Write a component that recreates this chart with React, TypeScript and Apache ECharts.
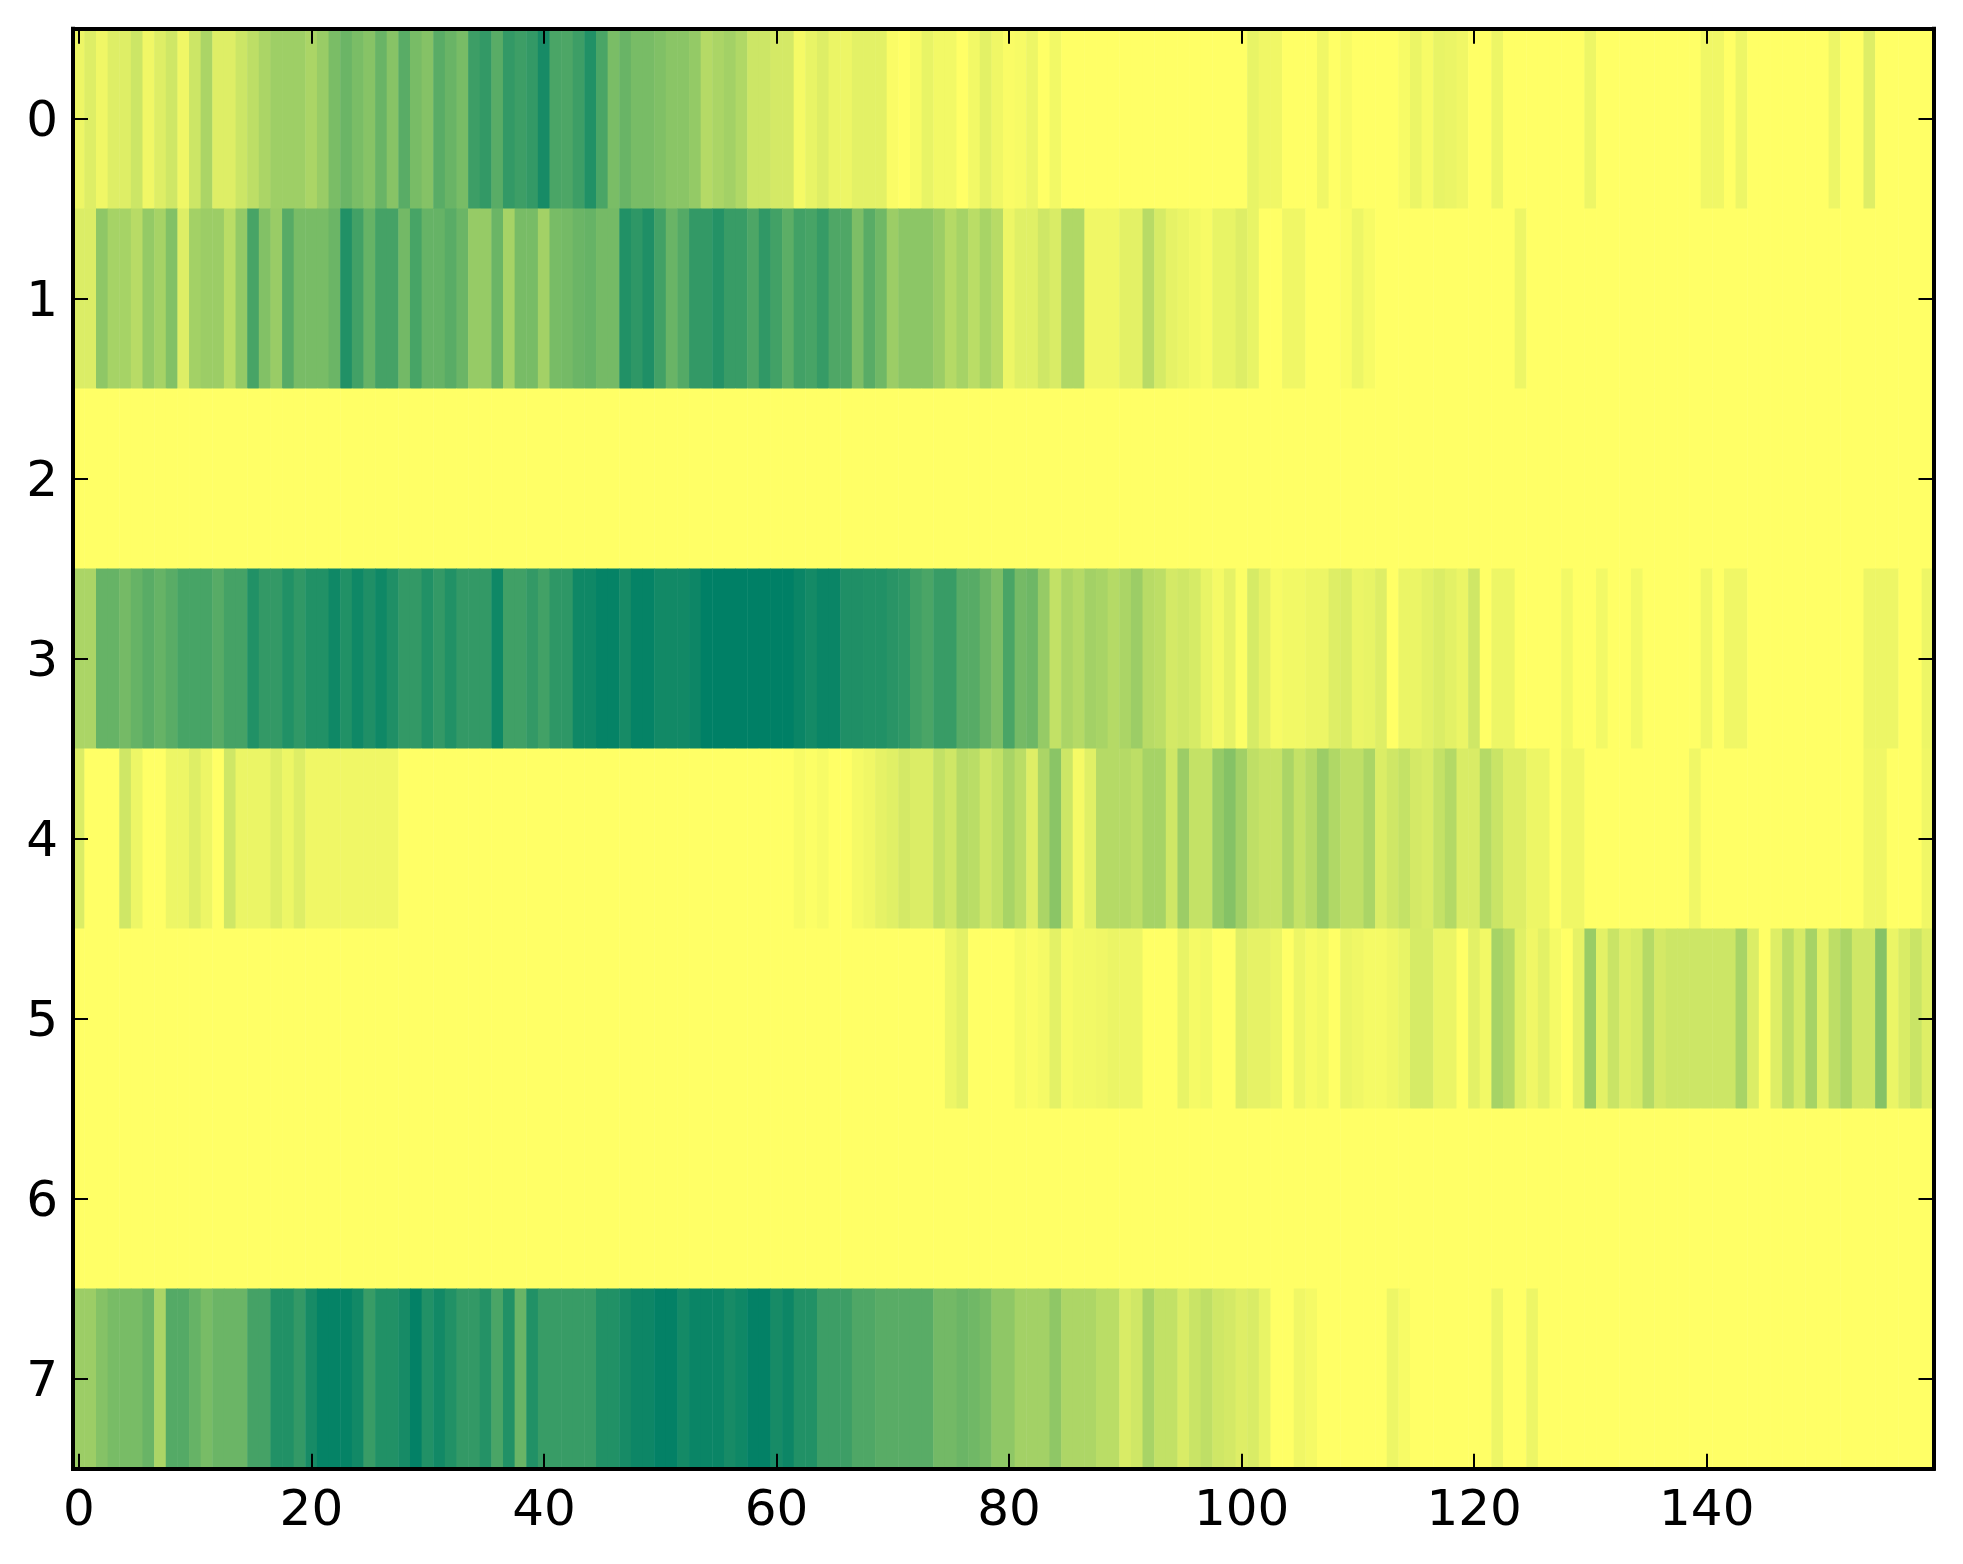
import React, { useEffect, useRef } from "react";
import * as echarts from "echarts";

const row0 = [
  .07,.13,.06,.13,.13,.2,.06,.13,.19,.06,
  .2,.33,.13,.13,.2,.26,.33,.38,.38,.38,
  .33,.4,.52,.58,.52,.47,.59,.47,.65,.53,
  .48,.65,.59,.53,.76,.8,.65,.8,.76,.8,
  .91,.71,.7,.76,.87,.71,.52,.59,.53,.53,
  .5,.46,.46,.42,.29,.33,.36,.31,.2,.2,
  .17,.17,.04,.09,.13,.08,.07,.11,.11,.11,
  .02,0,.03,.09,.05,.05,0,.05,.11,.06,
  .02,.03,.07,0,.05,0,0,0,0,0,
  0,0,0,0,0,0,0,0,0,0,
  0,.09,.06,.06,0,0,0,.06,0,.03,
  0,0,0,0,.03,.08,.03,.09,.08,.06,
  0,0,.07,0,0,0,0,0,0,0,
  .07,0,0,0,0,0,0,0,0,0,
  .06,.06,0,.07,0,0,0,0,0,0,
  0,.07,0,0,.13,0,0,0,0,0,
];
const row1 = [
  .14,.14,.44,.35,.35,.28,.42,.35,.49,.13,
  .36,.39,.39,.27,.42,.72,.49,.4,.66,.53,
  .53,.53,.58,.87,.74,.6,.73,.73,.55,.72,
  .6,.6,.65,.58,.41,.41,.58,.35,.53,.53,
  .36,.53,.54,.58,.6,.54,.54,.87,.82,.88,
  .74,.59,.67,.8,.8,.86,.78,.78,.7,.81,
  .74,.64,.74,.72,.79,.69,.69,.51,.65,.56,
  .39,.45,.45,.45,.39,.29,.35,.27,.34,.28,
  .07,.12,.12,.19,.15,.31,.31,.06,.06,.06,
  .11,.11,.28,.16,.1,.08,.05,.03,.09,.09,
  .13,.09,0,0,.06,.06,0,0,0,.02,
  .07,.03,0,0,0,0,0,0,0,0,
  0,0,0,0,.07,0,0,0,0,0,
  0,0,0,0,0,0,0,0,0,0,
  0,0,0,0,0,0,0,0,0,0,
  0,0,0,0,0,0,0,0,0,0,
];
const row2 = [
  0,0,0,0,0,0,0,0,0,0, 0,0,0,0,0,0,0,0,0,0, 0,0,0,0,0,0,0,0,0,0, 0,0,0,0,0,0,0,0,0,0,
  0,0,0,0,0,0,0,0,0,0, 0,0,0,0,0,0,0,0,0,0, 0,0,0,0,0,0,0,0,0,0, 0,0,0,0,0,0,0,0,0,0,
  0,0,0,0,0,0,0,0,0,0, 0,0,0,0,0,0,0,0,0,0, 0,0,0,0,0,0,0,0,0,0, 0,0,0,0,0,0,0,0,0,0,
  0,0,0,0,0,0,0,0,0,0, 0,0,0,0,0,0,0,0,0,0, 0,0,0,0,0,0,0,0,0,0, 0,0,0,0,0,0,0,0,0,0,
];
const row3 = [
  .33,.33,.6,.6,.54,.6,.65,.6,.65,.72,
  .72,.72,.66,.73,.73,.87,.8,.8,.87,.81,
  .87,.87,.94,.87,.94,.88,.94,.88,.8,.8,
  .87,.8,.87,.8,.8,.8,.94,.75,.75,.8,
  .74,.82,.82,.94,.94,.98,.98,.91,.98,.98,
  .93,.93,.93,.95,1,1,1,1,1,1,
  1,1,.96,.92,.96,.96,.88,.88,.87,.87,
  .84,.82,.75,.71,.78,.78,.66,.66,.59,.51,
  .71,.54,.57,.41,.24,.33,.29,.36,.34,.29,
  .33,.39,.28,.26,.17,.19,.16,.09,.04,.1,
  .01,.16,.1,.03,.05,.05,.07,.07,.13,.15,
  .08,.09,.13,0,.08,.08,.11,.14,.11,.08,
  .19,0,.07,.07,0,0,0,0,.05,0,
  0,.05,0,0,.05,0,0,0,0,0,
  .06,0,.06,.06,0,0,0,0,0,0,
  0,0,0,0,.07,.07,.07,0,0,.07,
];
const row4 = [
  .14,0,0,0,.19,.07,0,0,.07,.07,
  .13,.07,0,.19,.08,.08,.08,.13,.07,.13,
  .06,.06,.06,.06,.06,.06,.06,.06,0,0,
  0,0,0,0,0,0,0,0,0,0,
  0,0,0,0,0,0,0,0,0,0,
  0,0,0,0,0,0,0,0,0,0,
  0,0,.03,.01,.03,0,0,.04,.06,.1,
  .12,.17,.14,.14,.24,.19,.29,.27,.19,.24,
  .34,.27,.13,.33,.46,.2,.04,.12,.29,.29,
  .29,.26,.35,.35,.19,.39,.23,.23,.41,.48,
  .37,.25,.22,.22,.33,.23,.29,.39,.31,.25,
  .25,.33,.14,.19,.23,.17,.15,.23,.3,.15,
  .15,.29,.21,.13,.13,.07,.07,0,.06,.06,
  0,0,0,0,0,0,0,0,0,.06,
  0,0,0,0,0,0,0,0,0,0,
  0,0,0,0,.06,.06,0,0,0,.06,
];
const row5 = [
  0,0,0,0,0,0,0,0,0,0, 0,0,0,0,0,0,0,0,0,0, 0,0,0,0,0,0,0,0,0,0, 0,0,0,0,0,0,0,0,0,0,
  0,0,0,0,0,0,0,0,0,0, 0,0,0,0,0,0,0,0,0,0, 0,0,0,0,0,0,0,0,0,0,
  0,0,0,0,0,.07,.11,0,0,0,
  0,.04,.02,.04,.11,.03,.05,.05,.06,.08,
  .07,.07,0,0,0,.09,.04,.05,0,0,
  .13,.1,.1,.08,0,.07,.03,.05,0,.08,
  .06,.04,.04,.06,.09,.16,.16,.08,.08,0,
  .11,.05,.35,.29,.12,.06,.11,.04,0,.1,
  .4,.11,.21,.13,.16,.29,.17,.2,.2,.2,
  .2,.2,.2,.34,.14,0,.13,.27,.16,.35,
  .12,.26,.33,.19,.19,.48,.08,.15,.21,.13,
];
const row6 = [
  0,0,0,0,0,0,0,0,0,0, 0,0,0,0,0,0,0,0,0,0, 0,0,0,0,0,0,0,0,0,0, 0,0,0,0,0,0,0,0,0,0,
  0,0,0,0,0,0,0,0,0,0, 0,0,0,0,0,0,0,0,0,0, 0,0,0,0,0,0,0,0,0,0, 0,0,0,0,0,0,0,0,0,0,
  0,0,0,0,0,0,0,0,0,0, 0,0,0,0,0,0,0,0,0,0, 0,0,0,0,0,0,0,0,0,0, 0,0,0,0,0,0,0,0,0,0,
  0,0,0,0,0,0,0,0,0,0, 0,0,0,0,0,0,0,0,0,0, 0,0,0,0,0,0,0,0,0,0, 0,0,0,0,0,0,0,0,0,0,
];
const row7 = [
  .39,.39,.48,.53,.53,.53,.59,.33,.67,.67,
  .6,.53,.58,.58,.58,.73,.73,.87,.87,.8,
  .91,.98,.98,.98,.93,.78,.87,.87,.91,.99,
  .87,.93,.87,.8,.8,.86,.71,.87,.59,.87,
  .78,.78,.78,.78,.78,.87,.87,.91,.95,.95,
  .99,.99,.92,.96,.96,.96,.91,.94,.99,.99,
  .91,.95,.87,.87,.76,.76,.76,.69,.69,.65,
  .65,.65,.65,.65,.55,.55,.58,.56,.53,.44,
  .44,.36,.36,.36,.44,.32,.32,.32,.27,.27,
  .15,.19,.34,.24,.24,.15,.21,.25,.19,.17,
  .13,.15,.09,0,0,.06,.04,0,0,0,
  0,0,0,.07,.03,0,0,0,0,0,
  0,0,.07,0,0,.07,0,0,0,0,
  0,0,0,0,0,0,0,0,0,0,
  0,0,0,0,0,0,0,0,0,0,
  0,0,0,0,0,0,0,0,0,0,
];

const rows = [row0, row1, row2, row3, row4, row5, row6, row7];
const rowLabels = ["0", "1", "2", "3", "4", "5", "6", "7"];
const columnLabels = row0.map((_, i) => String(i));
const xTickStep = 20;
const colormap = ["#ffff66", "#008066"];

const FONT = "'DejaVu Sans'";
const showEvery = (i: number) => i % xTickStep === 0;
const axisLine = { show: true, onZero: false, lineStyle: { color: "#000", width: 4, cap: "square" } };
const tick = { show: true, inside: true, length: 15, lineStyle: { color: "#000", width: 2 } };

export default function App() {
  const ref = useRef<HTMLDivElement>(null);
  useEffect(() => {
    const chart = echarts.init(ref.current!, null, { renderer: "svg" });
    const cells: number[][] = [];
    rows.forEach((r, y) => r.forEach((v, x) => cells.push([x, y, v])));
    const xBase = { type: "category", data: columnLabels, boundaryGap: true, z: 10, axisLine, splitLine: { show: false } };
    const yBase = { type: "category", data: rowLabels, inverse: true, boundaryGap: true, z: 10, axisLine, splitLine: { show: false } };
    chart.setOption({
      animation: false,
      backgroundColor: "#fff",
      grid: { left: 73, top: 28.7, width: 1860.5, height: 1440, containLabel: false },
      xAxis: [
        {
          ...xBase,
          position: "bottom",
          axisTick: { ...tick, alignWithLabel: true, interval: (i: number) => showEvery(i) },
          axisLabel: {
            show: true, interval: (i: number) => showEvery(i),
            color: "#000", fontFamily: FONT, fontSize: 50, margin: 14,
          },
        },
        {
          ...xBase,
          position: "top",
          axisTick: { ...tick, alignWithLabel: true, interval: (i: number) => showEvery(i) },
          axisLabel: { show: false },
        },
      ],
      yAxis: [
        {
          ...yBase,
          position: "left",
          axisTick: { ...tick, alignWithLabel: true },
          axisLabel: { show: true, color: "#000", fontFamily: FONT, fontSize: 50, margin: 15 },
        },
        {
          ...yBase,
          position: "right",
          axisTick: { ...tick, alignWithLabel: true },
          axisLabel: { show: false },
        },
      ],
      visualMap: {
        show: false, type: "continuous", min: 0, max: 1,
        inRange: { color: colormap }, seriesIndex: 0,
      },
      series: [
        {
          type: "heatmap", data: cells, xAxisIndex: 0, yAxisIndex: 0, z: 2,
          itemStyle: { borderWidth: 0 }, emphasis: { disabled: true }, progressive: 0,
        },
      ],
    });
    return () => chart.dispose();
  }, []);
  return (
    <div
      ref={ref}
      style={{ position: "absolute", left: 0, top: 0, width: 1963, height: 1564 }}
    />
  );
}
